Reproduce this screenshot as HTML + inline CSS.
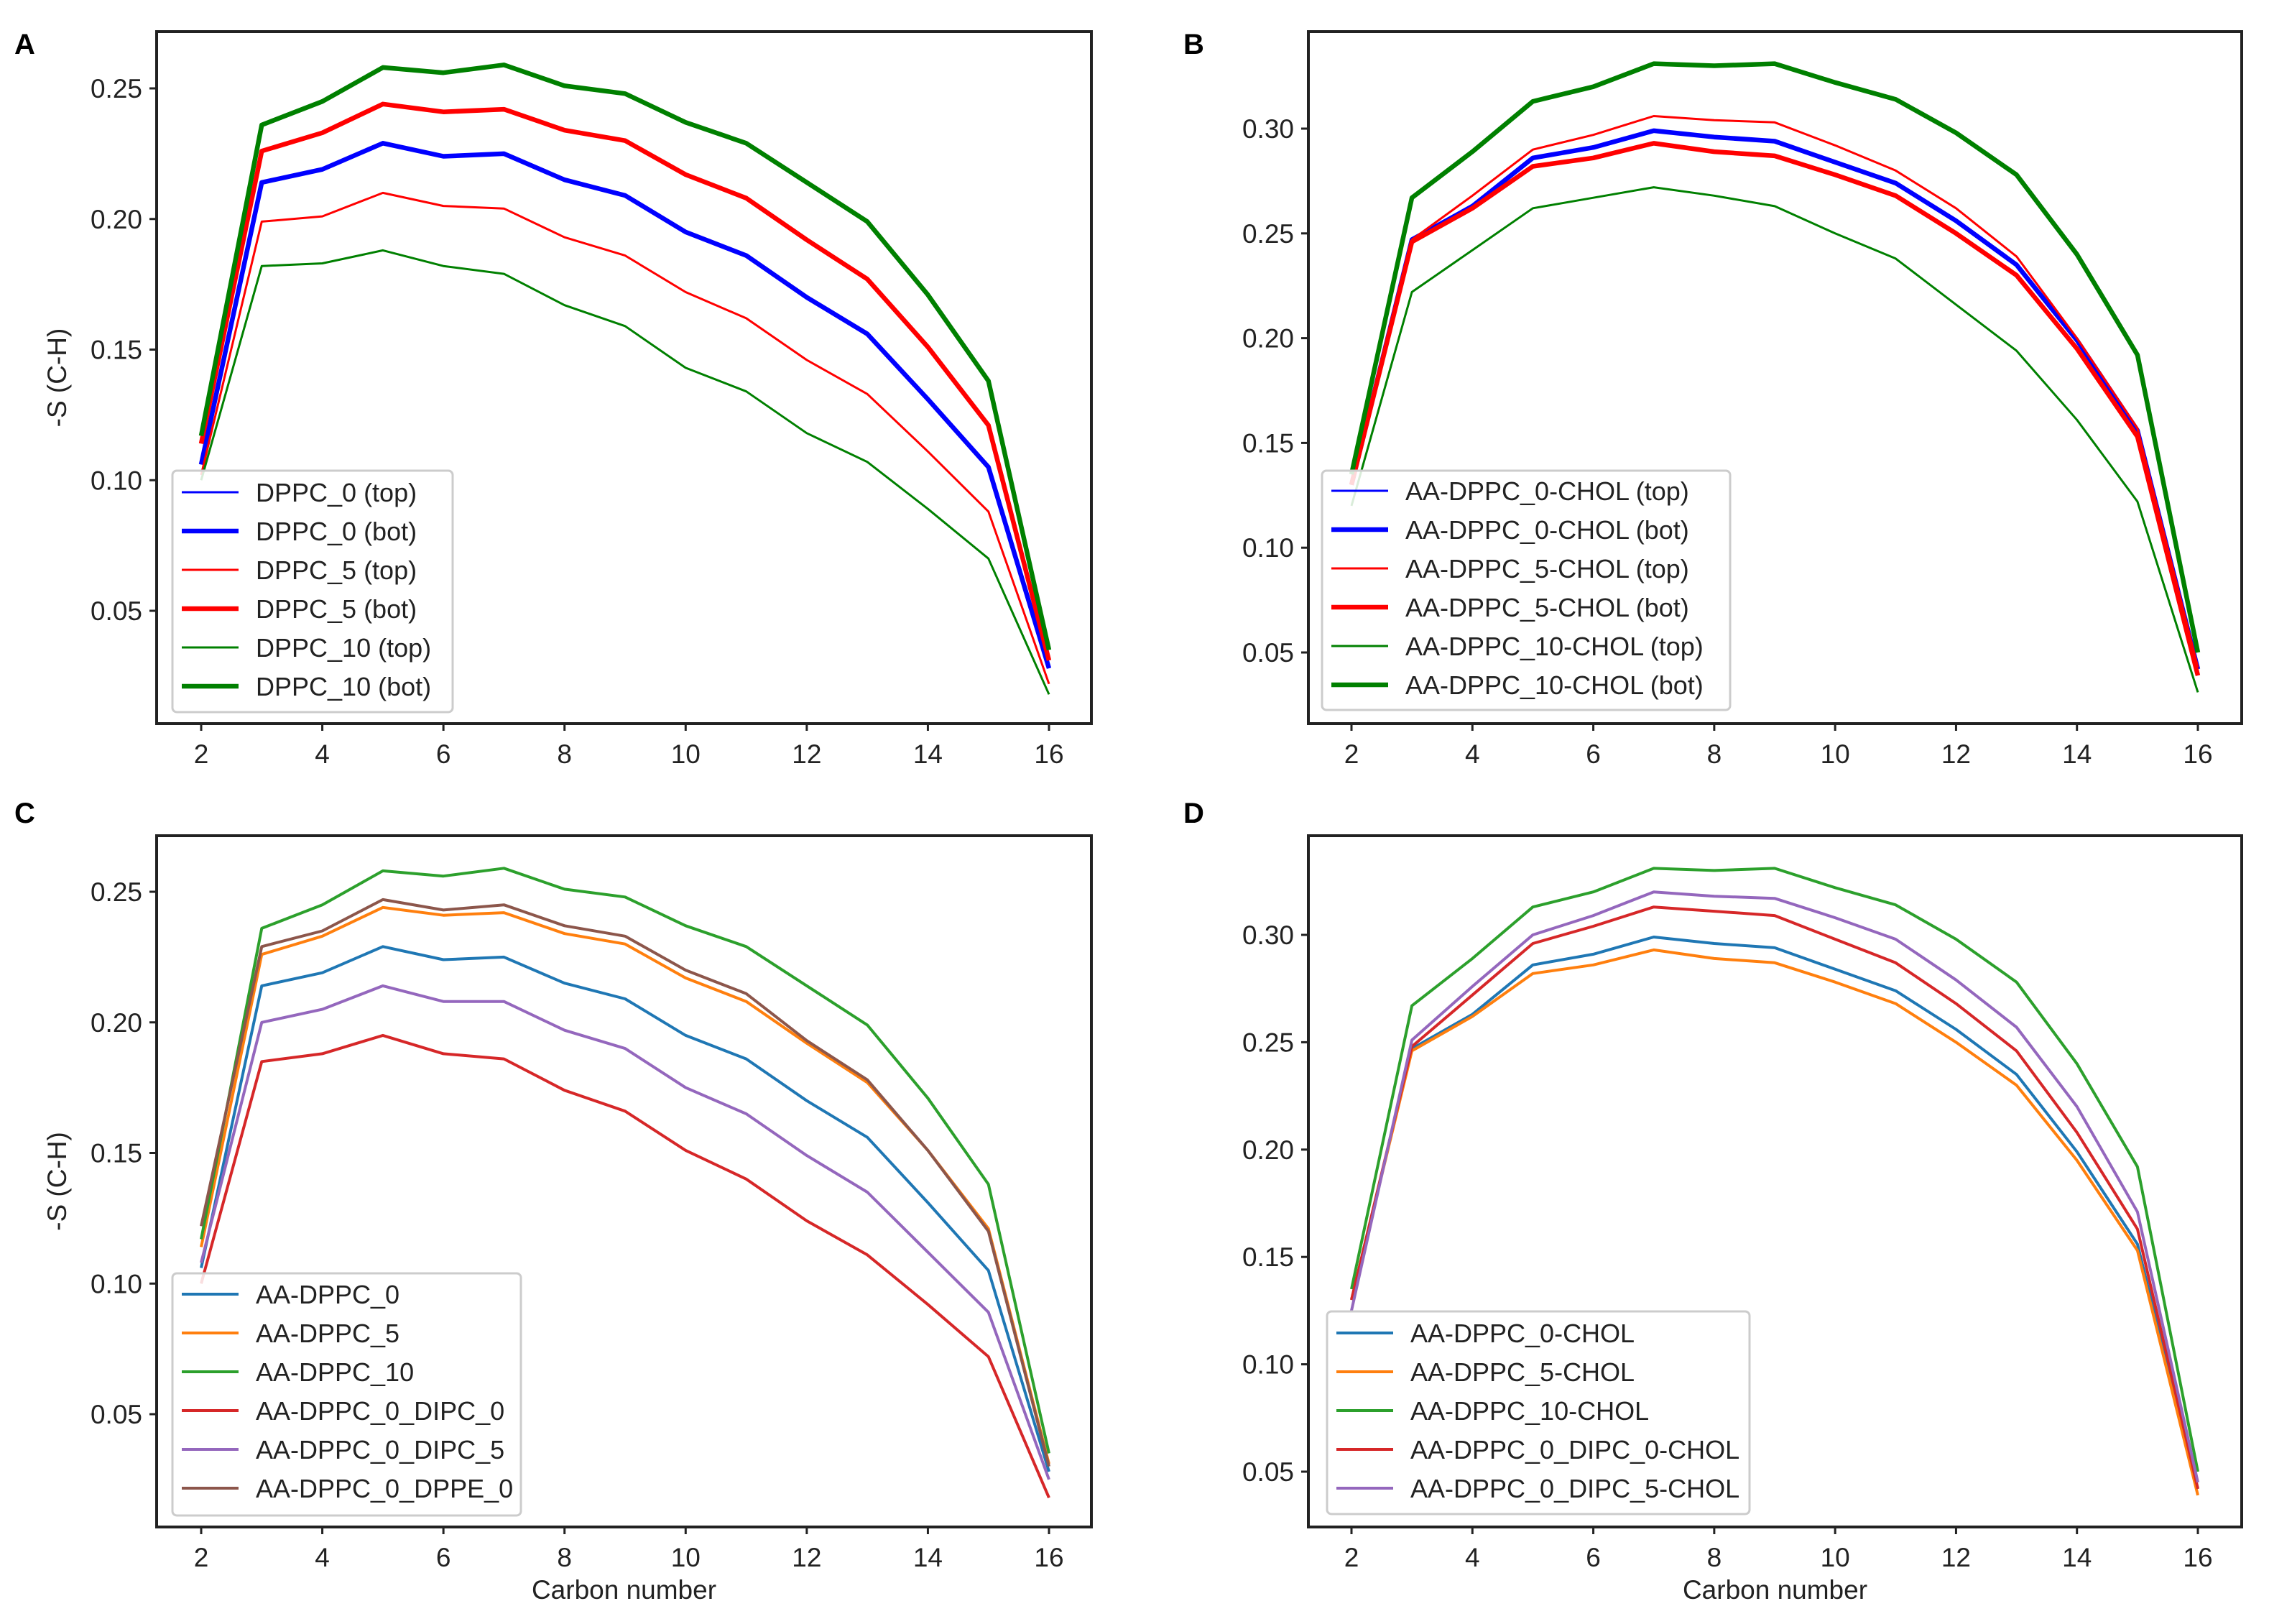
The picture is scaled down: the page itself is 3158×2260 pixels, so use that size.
<!DOCTYPE html>
<html><head><meta charset="utf-8"><style>
html,body{margin:0;padding:0;background:#fff;}
svg{display:block;font-family:"Liberation Sans","DejaVu Sans",sans-serif;}
</style></head><body>
<svg id="fig" width="3158" height="2260" viewBox="0 0 3158 2260" xmlns="http://www.w3.org/2000/svg"></svg>
<script>
const carbons = [2,3,4,5,6,7,8,9,10,11,12,13,14,15,16];
const xTicks = [2,4,6,8,10,12,14,16];
const yTicksAC = [0.05,0.10,0.15,0.20,0.25];
const yTicksBD = [0.05,0.10,0.15,0.20,0.25,0.30];

const aDppc0 = [0.106,0.214,0.219,0.229,0.224,0.225,0.215,0.209,0.195,0.186,0.170,0.156,0.131,0.105,0.028];
const aDppc5Top = [0.102,0.199,0.201,0.210,0.205,0.204,0.193,0.186,0.172,0.162,0.146,0.133,0.111,0.088,0.022];
const aDppc5Bot = [0.114,0.226,0.233,0.244,0.241,0.242,0.234,0.230,0.217,0.208,0.192,0.177,0.151,0.121,0.031];
const aDppc10Top = [0.100,0.182,0.183,0.188,0.182,0.179,0.167,0.159,0.143,0.134,0.118,0.107,0.089,0.070,0.018];
const aDppc10Bot = [0.117,0.236,0.245,0.258,0.256,0.259,0.251,0.248,0.237,0.229,0.214,0.199,0.171,0.138,0.035];

const bChol0 = [0.130,0.247,0.263,0.286,0.291,0.299,0.296,0.294,0.284,0.274,0.256,0.235,0.199,0.156,0.042];
const bChol5Top = [0.130,0.247,0.268,0.290,0.297,0.306,0.304,0.303,0.292,0.280,0.262,0.239,0.200,0.157,0.043];
const bChol5Bot = [0.130,0.246,0.262,0.282,0.286,0.293,0.289,0.287,0.278,0.268,0.250,0.230,0.195,0.153,0.039];
const bChol10Top = [0.120,0.222,0.242,0.262,0.267,0.272,0.268,0.263,0.250,0.238,0.216,0.194,0.161,0.122,0.031];
const bChol10Bot = [0.135,0.267,0.289,0.313,0.320,0.331,0.330,0.331,0.322,0.314,0.298,0.278,0.240,0.192,0.050];

const cDipc0 = [0.100,0.185,0.188,0.195,0.188,0.186,0.174,0.166,0.151,0.140,0.124,0.111,0.092,0.072,0.018];
const cDipc5 = [0.108,0.200,0.205,0.214,0.208,0.208,0.197,0.190,0.175,0.165,0.149,0.135,0.112,0.089,0.025];
const cDppe0 = [0.122,0.229,0.235,0.247,0.243,0.245,0.237,0.233,0.220,0.211,0.193,0.178,0.151,0.120,0.030];

const dDipc0Chol = [0.130,0.248,0.272,0.296,0.304,0.313,0.311,0.309,0.298,0.287,0.268,0.246,0.208,0.163,0.042];
const dDipc5Chol = [0.125,0.251,0.276,0.300,0.309,0.320,0.318,0.317,0.308,0.298,0.279,0.257,0.220,0.171,0.045];

const NS="http://www.w3.org/2000/svg";
const svg=document.getElementById('fig');
function mk(tag,attrs,parent){const e=document.createElementNS(NS,tag);for(const k in attrs)e.setAttribute(k,attrs[k]);(parent||svg).appendChild(e);return e;}

const panels=[
 {id:'a',letter:'A',lx:20,ly:75,x0:218,x1:1519,y0:44,y1:1007,px2:280,px16:1460,yA:0.25,pyA:123,yB:0.05,pyB:850,yt:yTicksAC,ylab:true,xlab:false,
  leg:{x:240,y:655,w:390,h:336,r1:685},
  series:[
   {n:'DPPC_0 (top)',d:aDppc0,c:'#0000ff',w:3},
   {n:'DPPC_0 (bot)',d:aDppc0,c:'#0000ff',w:6.5},
   {n:'DPPC_5 (top)',d:aDppc5Top,c:'#ff0000',w:3},
   {n:'DPPC_5 (bot)',d:aDppc5Bot,c:'#ff0000',w:6.5},
   {n:'DPPC_10 (top)',d:aDppc10Top,c:'#008000',w:3},
   {n:'DPPC_10 (bot)',d:aDppc10Bot,c:'#008000',w:6.5}]},
 {id:'b',letter:'B',lx:1647,ly:75,x0:1821,x1:3120,y0:44,y1:1007,px2:1881,px16:3059,yA:0.30,pyA:179,yB:0.05,pyB:908,yt:yTicksBD,ylab:false,xlab:false,
  leg:{x:1840,y:655,w:568,h:333,r1:683},
  series:[
   {n:'AA-DPPC_0-CHOL (top)',d:bChol0,c:'#0000ff',w:3},
   {n:'AA-DPPC_0-CHOL (bot)',d:bChol0,c:'#0000ff',w:6.5},
   {n:'AA-DPPC_5-CHOL (top)',d:bChol5Top,c:'#ff0000',w:3},
   {n:'AA-DPPC_5-CHOL (bot)',d:bChol5Bot,c:'#ff0000',w:6.5},
   {n:'AA-DPPC_10-CHOL (top)',d:bChol10Top,c:'#008000',w:3},
   {n:'AA-DPPC_10-CHOL (bot)',d:bChol10Bot,c:'#008000',w:6.5}]},
 {id:'c',letter:'C',lx:20,ly:1145,x0:218,x1:1519,y0:1163,y1:2125,px2:280,px16:1460,yA:0.25,pyA:1241,yB:0.05,pyB:1968,yt:yTicksAC,ylab:true,xlab:true,
  leg:{x:240,y:1772,w:485,h:337,r1:1801},
  series:[
   {n:'AA-DPPC_0',d:aDppc0,c:'#1f77b4',w:4},
   {n:'AA-DPPC_5',d:aDppc5Bot,c:'#ff7f0e',w:4},
   {n:'AA-DPPC_10',d:aDppc10Bot,c:'#2ca02c',w:4},
   {n:'AA-DPPC_0_DIPC_0',d:cDipc0,c:'#d62728',w:4},
   {n:'AA-DPPC_0_DIPC_5',d:cDipc5,c:'#9467bd',w:4},
   {n:'AA-DPPC_0_DPPE_0',d:cDppe0,c:'#8c564b',w:4}]},
 {id:'d',letter:'D',lx:1647,ly:1145,x0:1821,x1:3120,y0:1163,y1:2125,px2:1881,px16:3059,yA:0.30,pyA:1301,yB:0.05,pyB:2048,yt:yTicksBD,ylab:false,xlab:true,
  leg:{x:1847,y:1825,w:588,h:282,r1:1855},
  series:[
   {n:'AA-DPPC_0-CHOL',d:bChol0,c:'#1f77b4',w:4},
   {n:'AA-DPPC_5-CHOL',d:bChol5Bot,c:'#ff7f0e',w:4},
   {n:'AA-DPPC_10-CHOL',d:bChol10Bot,c:'#2ca02c',w:4},
   {n:'AA-DPPC_0_DIPC_0-CHOL',d:dDipc0Chol,c:'#d62728',w:4},
   {n:'AA-DPPC_0_DIPC_5-CHOL',d:dDipc5Chol,c:'#9467bd',w:4}]}
];

panels.forEach(p=>{
  const g=mk('g',{});
  
  
  const xs=v=>p.px2+(v-2)*(p.px16-p.px2)/14;
  const ys=v=>p.pyB+(v-p.yB)*(p.pyA-p.pyB)/(p.yA-p.yB);
  const L=mk('text',{x:p.lx,y:p.ly,'font-size':40,'font-weight':'bold',fill:'#000'},g);
  L.textContent=p.letter;
  
  
  const clipId='clip'+p.id;
  const cp=mk('clipPath',{id:clipId},g);
  mk('rect',{x:p.x0,y:p.y0,width:p.x1-p.x0,height:p.y1-p.y0},cp);
  const lines=mk('g',{'clip-path':'url(#'+clipId+')'},g);
  p.series.forEach((s,i)=>{
    const pts=carbons.map((c,j)=>xs(c).toFixed(1)+','+ys(s.d[j]).toFixed(1)).join(' ');
    const pl=mk('polyline',{points:pts,fill:'none',stroke:s.c,'stroke-width':s.w,'stroke-linejoin':'round'},lines);
    
    
  });
  const fr=mk('rect',{x:p.x0,y:p.y0,width:p.x1-p.x0,height:p.y1-p.y0,fill:'none',stroke:'#222',"stroke-width":4},g);
  
  
  xTicks.forEach(t=>{
    const x=xs(t);
    mk('line',{x1:x,x2:x,y1:p.y1,y2:p.y1+10,stroke:'#222','stroke-width':3},g);
    const tx=mk('text',{x:x,y:p.y1+55,'font-size':37,'text-anchor':'middle',fill:'#222'},g);
    tx.textContent=t;
    
    
  });
  p.yt.forEach(t=>{
    const y=ys(t);
    mk('line',{x1:p.x0-10,x2:p.x0,y1:y,y2:y,stroke:'#222','stroke-width':3},g);
    const ty=mk('text',{x:p.x0-20,y:y+13,'font-size':37,'text-anchor':'end',fill:'#222'},g);
    ty.textContent=t.toFixed(2);
    
    
  });
  if(p.ylab){
    const yc=(p.y0+p.y1)/2;
    const yl=mk('text',{x:0,y:0,transform:'translate(92,'+yc+') rotate(-90)','font-size':37,'text-anchor':'middle',fill:'#222'},g);
    yl.textContent='-S (C-H)';
    
    
  }
  if(p.xlab){
    const xl=mk('text',{x:(p.x0+p.x1)/2,y:p.y1+100,'font-size':37,'text-anchor':'middle',fill:'#222'},g);
    xl.textContent='Carbon number';
    
    
  }
  const lg=mk('g',{},g);
  
  
  mk('rect',{x:p.leg.x,y:p.leg.y,width:p.leg.w,height:p.leg.h,rx:6,fill:'#fff','fill-opacity':0.85,stroke:'#ccc','stroke-width':3},lg);
  p.series.forEach((s,i)=>{
    const y=p.leg.r1+i*54;
    const e=mk('g',{},lg);
    
    
    mk('line',{x1:p.leg.x+13,x2:p.leg.x+92,y1:y,y2:y,stroke:s.c,'stroke-width':s.w},e);
    const t=mk('text',{x:p.leg.x+116,y:y+13,'font-size':36,fill:'#222'},e);
    t.textContent=s.n;
  });
});
</script>
</body></html>
